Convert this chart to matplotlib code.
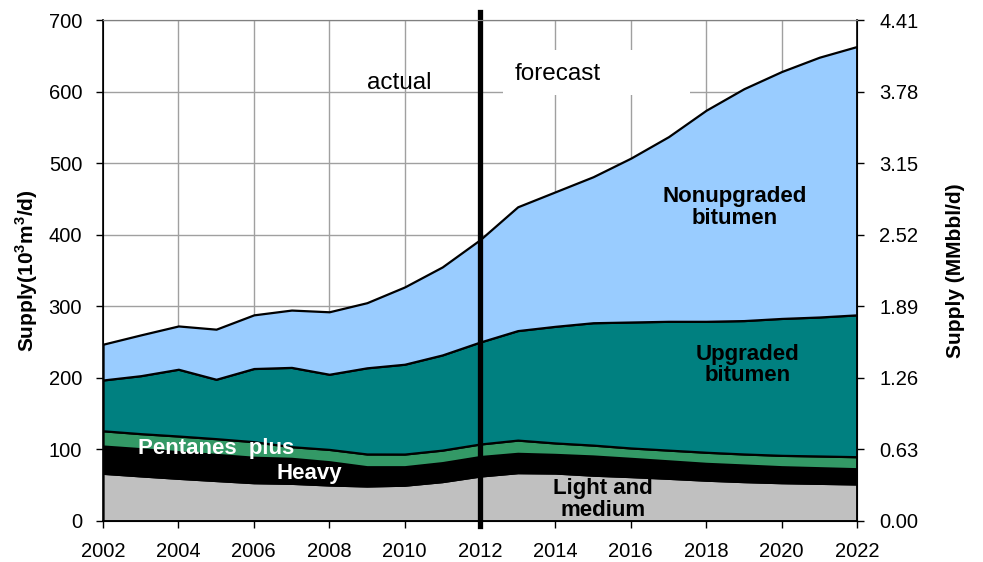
import numpy as np
import matplotlib
matplotlib.use("Agg")
from matplotlib import pyplot as plt
from matplotlib.patches import Rectangle

plt.rcParams['font.family'] = ['Liberation Sans', 'DejaVu Sans']

# supply by stream, 10^3 m3/d
years = list(range(2002, 2023))
light_medium = [66.6, 63, 59.6, 56.5, 53.5, 52.6, 50.3, 48.9, 50, 55, 62.8,
                67.5, 67, 64, 62, 59.6, 57, 55, 53.5, 52.6, 51.7]
heavy = [38.1, 38, 37.2, 36.5, 35.5, 34.9, 32.5, 26.9, 25.8, 26.5, 27.2,
         27, 26, 26.8, 25.5, 24.4, 23.5, 23.2, 22.3, 21.8, 21.3]
pentanes = [21.3, 21, 21.9, 22, 21.8, 16.3, 17.2, 17.8, 17.7, 17.5, 17.5,
            18.5, 16, 15.2, 14.5, 15, 15.5, 15.4, 15.9, 16.4, 16.8]
upgraded = [71, 81, 93.3, 83, 102.2, 110.8, 105, 120.4, 125.5, 133, 142.5,
            153, 163, 171, 176, 180, 183, 186.4, 191.3, 194.2, 198.2]
nonupgraded = [50, 57, 60.5, 70, 75, 80.1, 87.3, 91, 108, 123, 143,
               173, 188, 204, 229, 258, 295, 324, 345, 363, 375]

right_ticks = [0.0, 0.63, 1.26, 1.89, 2.52, 3.15, 3.78, 4.41]

colors = ['#C0C0C0', '#000000', '#339966', '#008080', '#99CCFF']

fig = plt.figure(figsize=(9.83, 5.62), dpi=100)
ax = fig.add_axes([0.1048, 0.073, 0.767, 0.8914])

# grid
for yv in range(100, 800, 100):
    ax.axhline(yv, color='#A0A0A0', lw=1.0, zorder=0)
for xv in range(2004, 2022, 2):
    ax.axvline(xv, color='#A0A0A0', lw=1.0, zorder=0)

# white box behind forecast label
ax.add_patch(Rectangle((2012.61, 595), 4.96, 63, facecolor='white',
                       edgecolor='none', zorder=1))

ax.stackplot(years, light_medium, heavy, pentanes, upgraded, nonupgraded,
             colors=colors, edgecolor='black', linewidth=1.6, zorder=2)

ax.set_xlim(2002, 2022)
ax.set_ylim(0, 700)
ax.set_xticks(range(2002, 2023, 2))
ax.set_yticks(range(0, 701, 100))
ax.tick_params(labelsize=14.5, length=5, width=1, direction='out', pad=10)
ax.set_ylabel(r'Supply(10$^{\mathregular{3}}$m$^{\mathregular{3}}$/d)', fontsize=15,
              fontweight='bold', labelpad=6)
ax.spines['top'].set_color('#808080')
ax.spines['left'].set_linewidth(1.2)
ax.spines['bottom'].set_linewidth(1.2)

ax2 = ax.twinx()
ax2.set_ylim(0, 4.41)
ax2.set_yticks(right_ticks)
ax2.set_yticklabels(['%.2f' % t for t in right_ticks])
ax2.tick_params(labelsize=14.5, length=5, width=1, direction='out', pad=11)
ax2.set_ylabel('Supply (MMbbl/d)', fontsize=15, fontweight='bold', labelpad=20)
ax2.spines['top'].set_color('#808080')
ax2.spines['right'].set_linewidth(1.2)

# actual / forecast divider
ax.axvline(2012, ymin=-0.01, ymax=1.015, color='black', lw=3.8, zorder=5,
           clip_on=False)

ax.text(2009.85, 612, 'actual', fontsize=17.5, ha='center', va='center', zorder=6)
ax.text(2014.06, 625, 'forecast', fontsize=17.5, ha='center', va='center', zorder=6)

ax.text(2018.76, 438, 'Nonupgraded\nbitumen', fontsize=16, fontweight='bold',
        ha='center', va='center', linespacing=1.05, zorder=6)
ax.text(2019.1, 218, 'Upgraded\nbitumen', fontsize=16, fontweight='bold',
        ha='center', va='center', linespacing=1.05, zorder=6)
ax.text(2015.26, 30, 'Light and\nmedium', fontsize=16, fontweight='bold',
        ha='center', va='center', linespacing=1.05, zorder=6)
ax.text(2005.0, 101, 'Pentanes  plus', fontsize=16, fontweight='bold',
        color='white', ha='center', va='center', zorder=6)
ax.text(2007.46, 66, 'Heavy', fontsize=16, fontweight='bold',
        color='white', ha='center', va='center', zorder=6)

plt.savefig('out.png', dpi=100)
